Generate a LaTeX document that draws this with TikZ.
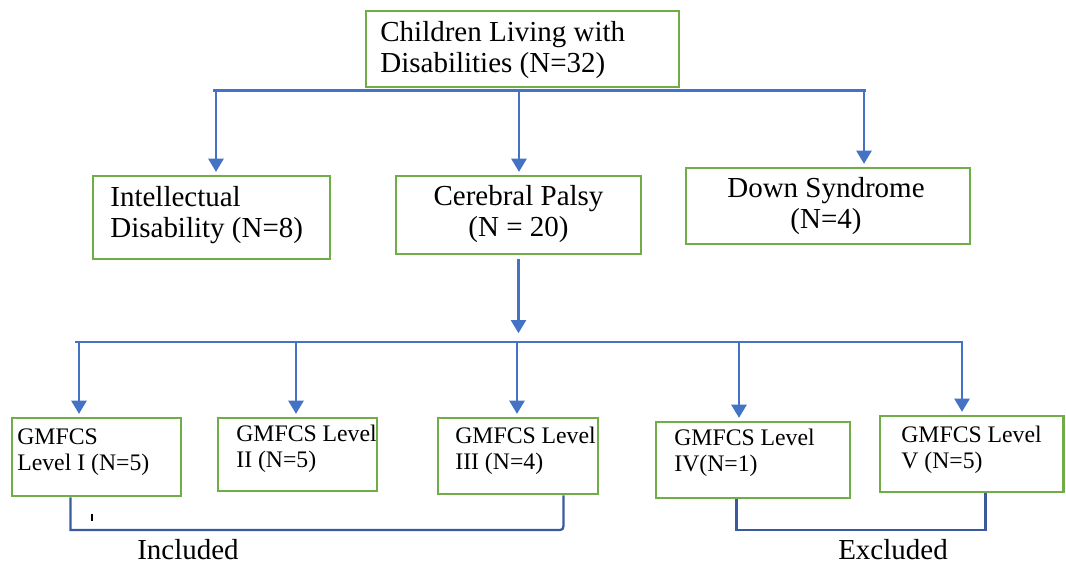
\documentclass[tikz,border=0pt]{standalone}
\usepackage{fontspec}
\setmainfont{Liberation Serif}
\usetikzlibrary{calc, arrows.meta}
\definecolor{boxgreen}{HTML}{70AD47}
\definecolor{linkblue}{HTML}{4472C4}
\definecolor{brackblue}{HTML}{3A5A9E}
\tikzset{catbox/.style={draw=boxgreen, line width=1.7pt, fill=white, inner sep=0pt}}
\tikzset{link/.style={draw=linkblue, line width=1.5pt}}
\tikzset{arr/.style={link, -{Triangle[width=8.5pt,length=7.5pt]}, shorten >=1.5pt}}
\tikzset{bracket/.style={draw=brackblue, line width=1.3pt}}
\tikzset{bigtxt/.style={font=\fontsize{16.5}{18}\selectfont, inner sep=0pt}}
\tikzset{smalltxt/.style={font=\fontsize{13.5}{15}\selectfont, align=left, inner sep=0pt}}

\begin{document}
\begin{tikzpicture}
    \useasboundingbox (0,0) rectangle (21.32,-11.32);
    \newcommand\barYa{-1.81}
    \newcommand\barYb{-6.84}
    \newcommand\brkY{-10.6}

    % category boxes
    \node[catbox, minimum width=6.26cm, minimum height=1.52cm] (CLD) at (10.45,-0.98){};
    \node[catbox, minimum width=4.74cm, minimum height=1.66cm] (ID) at (4.23,-4.35){};
    \node[catbox, minimum width=4.90cm, minimum height=1.56cm] (CP) at (10.37,-4.30){};
    \node[catbox, minimum width=5.68cm, minimum height=1.52cm] (DS) at (16.56,-4.12){};

    \node[bigtxt, align=left, anchor=west] (labCLD) at (7.6,-1.0){Children Living with\\Disabilities (N=32)};
    \node[bigtxt, align=left, anchor=west] (labID) at (2.2,-4.3){Intellectual\\Disability (N=8)};
    \node[bigtxt, align=center] (labCP) at (10.37,-4.28){Cerebral Palsy\\(N = 20)};
    \node[bigtxt, align=center] (labDS) at (16.52,-4.12){Down Syndrome\\(N=4)};

    % GMFCS levels
    \node[catbox, minimum width=3.38cm, minimum height=1.56cm] (L1) at (1.93,-9.14){};
    \node[catbox, minimum width=3.18cm, minimum height=1.46cm] (L2) at (5.95,-9.09){};
    \node[catbox, minimum width=3.20cm, minimum height=1.52cm] (L3) at (10.36,-9.12){};
    \node[catbox, minimum width=3.88cm, minimum height=1.52cm] (L4) at (15.06,-9.20){};
    \node[catbox, minimum width=3.66cm, minimum height=1.52cm] (L5) at (19.43,-9.08){};

    \node[smalltxt, anchor=west] (labL1) at (0.34,-9.04){GMFCS\\Level I (N=5)};
    \node[smalltxt, anchor=west] (labL2) at (4.72,-8.98){GMFCS Level\\II (N=5)};
    \node[smalltxt, anchor=west] (labL3) at (9.10,-9.02){GMFCS Level\\III (N=4)};
    \node[smalltxt, anchor=west] (labL4) at (13.48,-9.06){GMFCS Level\\IV(N=1)};
    \node[smalltxt, anchor=west] (labL5) at (18.02,-9.00){GMFCS Level\\V (N=5)};

    % first split
    \coordinate (barAl) at (4.26,\barYa);
    \coordinate (barAr) at (17.32,\barYa);
    \draw[link] (barAl) -- (barAr);
    \coordinate (tA) at (4.32,\barYa);
    \coordinate (tB) at (10.38,\barYa);
    \coordinate (tC) at (17.28,\barYa);
    \draw[arr] (tA) -- (tA |- ID.north);
    \draw[arr] (tB) -- (tB |- CP.north);
    \draw[arr] (tC) -- (tC |- DS.north);

    % second split
    \coordinate (barBl) at (1.50,\barYb);
    \coordinate (barBr) at (19.26,\barYb);
    \draw[arr, shorten <=2pt, shorten >=5pt] (CP.south) -- (CP.south |- barBl);
    \draw[link] (barBl) -- (barBr);
    \foreach \x/\n in {1.58/L1, 5.92/L2, 10.34/L3, 14.78/L4, 19.24/L5}{
        \coordinate (s) at (\x,\barYb);
        \draw[arr] (s) -- (s |- \n.north);
    }

    % brackets
    \coordinate (brk) at (0,\brkY);
    \coordinate (inA) at ($(L1.south west)+(1.20,0)$);
    \coordinate (inB) at ($(L3.south west)+(2.54,0)$);
    \coordinate (inC) at (inB |- brk);
    \draw[bracket] (inA) |- ($(inC)+(-0.14,0)$) .. controls (inC) .. ($(inC)+(0,0.18)$) -- (inB);
    \coordinate (exA) at ($(L4.south west)+(1.64,0)$);
    \coordinate (exB) at ($(L5.south west)+(2.14,0)$);
    \coordinate (exC) at (exB |- brk);
    \draw[bracket] (exA) |- (exC) -- (exB);
    \draw[line width=0.9pt] (1.84,-10.27) -- (1.84,-10.41);

    \node[bigtxt] (inc) at (3.76,-10.99){Included};
    \node[bigtxt] (exc) at (17.86,-10.99){Excluded};
\end{tikzpicture}
\end{document}
